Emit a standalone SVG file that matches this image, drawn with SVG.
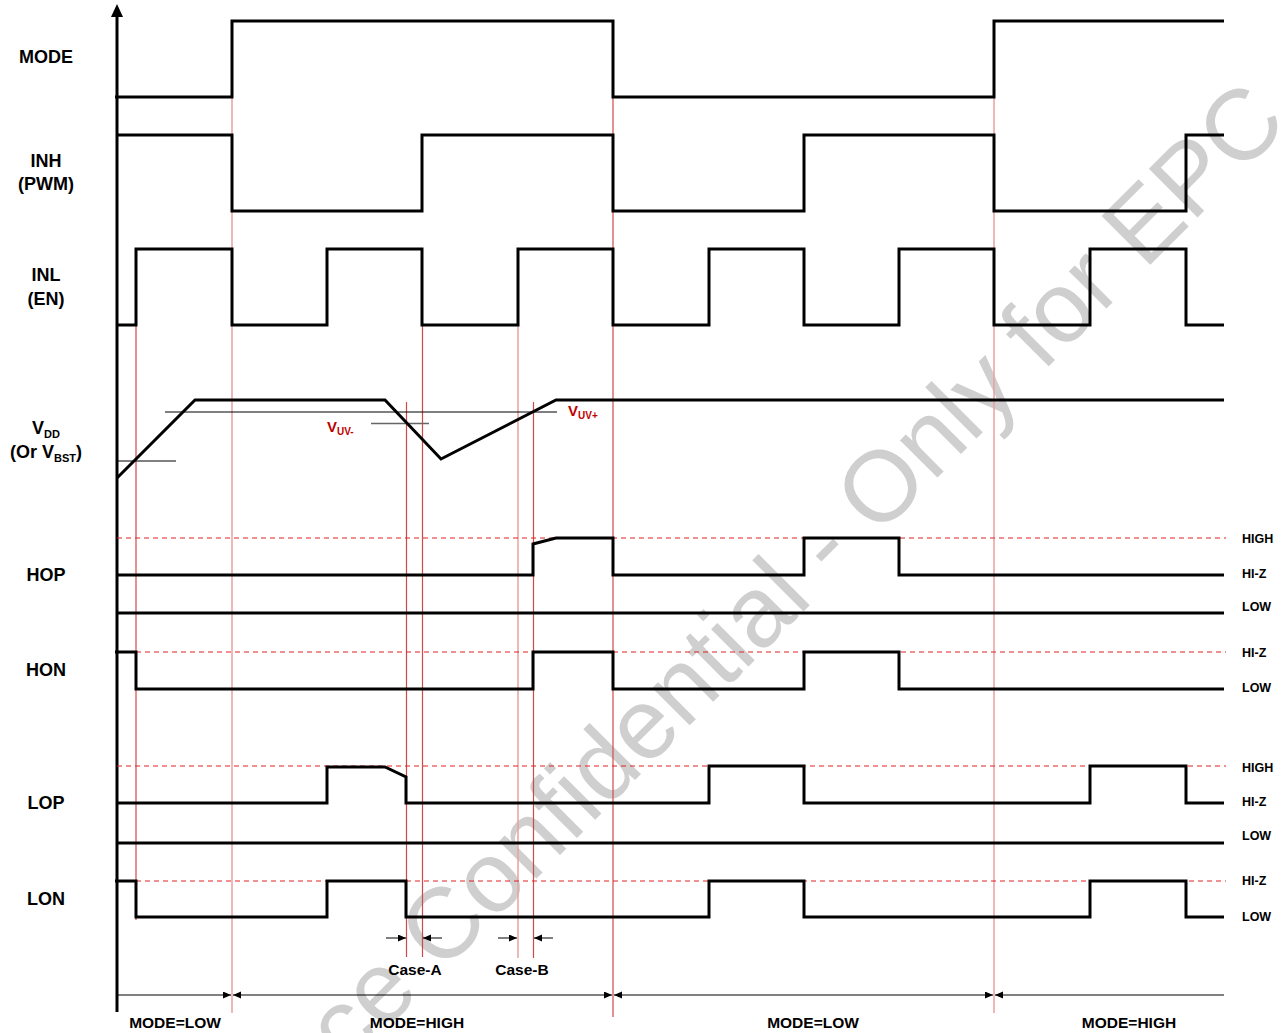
<svg xmlns="http://www.w3.org/2000/svg" width="1288" height="1033" viewBox="0 0 1288 1033">
<style>
.wm{font-family:"Liberation Sans",Arial,sans-serif;font-size:100px;fill:#cfcfcf}
.wave{fill:none;stroke:#000;stroke-width:3;stroke-linejoin:miter}
.lvl{fill:none;stroke:#000;stroke-width:3}
.dash{fill:none;stroke:#e02020;stroke-width:1;stroke-dasharray:5,4}
.red{fill:none;stroke:#d24848;stroke-width:1.2}
.redl{fill:none;stroke:#e8a0a0;stroke-width:1.5}
.thin{fill:none;stroke:#000;stroke-width:1}
.lbl{font-family:"Liberation Sans",Arial,sans-serif;font-weight:bold;font-size:18px;fill:#000;text-anchor:middle}
.rl{font-family:"Liberation Sans",Arial,sans-serif;font-weight:bold;font-size:12.5px;fill:#000}
.bl{font-family:"Liberation Sans",Arial,sans-serif;font-weight:bold;font-size:15.5px;fill:#000;text-anchor:middle}
.uv{font-family:"Liberation Sans",Arial,sans-serif;font-weight:bold;font-size:15px;fill:#c00000}
</style>
<defs>
<marker id="ah" markerWidth="9" markerHeight="8" refX="8" refY="3.5" orient="auto-start-reverse" markerUnits="userSpaceOnUse">
<path d="M0,0 L8,3.5 L0,7 z" fill="#000"/>
</marker>
<marker id="ax" markerWidth="12" markerHeight="14" refX="6" refY="0" orient="0" markerUnits="userSpaceOnUse">
<path d="M0,12 L6,0 L12,12 z" fill="#000"/>
</marker>
</defs>
<rect width="1288" height="1033" fill="#fff"/>
<text class="wm" x="1290" y="125" text-anchor="end" transform="rotate(-45 1290 125)">ce Confidential - Only for EPC</text>

<g id="markers">
<line class="red" x1="136" y1="325" x2="136" y2="920"/>
<line class="redl" x1="232" y1="97" x2="232" y2="1013"/>
<line class="red" x1="406.5" y1="402" x2="406.5" y2="957"/>
<line class="red" x1="422.5" y1="325" x2="422.5" y2="957"/>
<line class="redl" x1="518" y1="325" x2="518" y2="958"/>
<line class="red" x1="533.5" y1="402" x2="533.5" y2="958"/>
<line class="red" x1="613" y1="97" x2="613" y2="1017"/>
<line class="redl" x1="994" y1="97" x2="994" y2="1013"/>
</g>

<g id="axis">
<line x1="117" y1="16" x2="117" y2="1012" stroke="#000" stroke-width="3"/>
<path d="M111,17 L117,4 L123,17 z" fill="#000"/>
</g>

<g id="labels-left">
<text class="lbl" x="46" y="63">MODE</text>
<text class="lbl" x="46" y="167">INH</text>
<text class="lbl" x="46" y="190">(PWM)</text>
<text class="lbl" x="46" y="281">INL</text>
<text class="lbl" x="46" y="305">(EN)</text>
<text class="lbl" x="46" y="434">V<tspan font-size="11" dy="4">DD</tspan></text>
<text class="lbl" x="46" y="458">(Or V<tspan font-size="11" dy="4">BST</tspan><tspan dy="-4">)</tspan></text>
<text class="lbl" x="46" y="581">HOP</text>
<text class="lbl" x="46" y="676">HON</text>
<text class="lbl" x="46" y="809">LOP</text>
<text class="lbl" x="46" y="905">LON</text>
</g>

<g id="labels-right">
<text class="rl" x="1242" y="543">HIGH</text>
<text class="rl" x="1242" y="578">HI-Z</text>
<text class="rl" x="1242" y="611">LOW</text>
<text class="rl" x="1242" y="657">HI-Z</text>
<text class="rl" x="1242" y="692">LOW</text>
<text class="rl" x="1242" y="772">HIGH</text>
<text class="rl" x="1242" y="806">HI-Z</text>
<text class="rl" x="1242" y="840">LOW</text>
<text class="rl" x="1242" y="885">HI-Z</text>
<text class="rl" x="1242" y="921">LOW</text>
</g>

<g id="MODE">
<path class="wave" d="M115,97 H232 V21 H613 V97 H994 V21 H1224"/>
</g>
<g id="INH">
<path class="wave" d="M117,135 H232 V211 H422 V135 H613 V211 H804 V135 H994 V211 H1186 V135 H1224"/>
</g>
<g id="INL">
<path class="wave" d="M117,325 H136 V249 H232 V325 H327 V249 H422 V325 H518 V249 H613 V325 H709 V249 H804 V325 H899 V249 H994 V325 H1090 V249 H1186 V325 H1224"/>
</g>
<g id="VDD">
<line class="thin" x1="165" y1="412" x2="557" y2="412"/>
<line x1="371" y1="423.5" x2="429" y2="423.5" stroke="#666" stroke-width="1.5"/>
<line class="thin" x1="117" y1="461" x2="176" y2="461"/>
<path class="wave" d="M117,478 L195,400 H385 L441,459 L556,400 H1224"/>
<text class="uv" x="327" y="432">V<tspan font-size="10" dy="3">UV-</tspan></text>
<text class="uv" x="568" y="416">V<tspan font-size="10" dy="3">UV+</tspan></text>
</g>
<g id="HOP">
<line class="dash" x1="117" y1="538" x2="1226" y2="538"/>
<line class="lvl" x1="117" y1="613" x2="1224" y2="613"/>
<path class="wave" d="M117,575 H533 V544 L556,538 H613 V575 H804 V538 H899 V575 H1224"/>
</g>
<g id="HON">
<line class="dash" x1="136" y1="652" x2="1226" y2="652"/>
<path class="wave" d="M115,652 H136 V689 H533 V652 H613 V689 H804 V652 H899 V689 H1224"/>
</g>
<g id="LOP">
<line class="dash" x1="117" y1="766" x2="1226" y2="766"/>
<line class="lvl" x1="117" y1="843" x2="1224" y2="843"/>
<path class="wave" d="M117,803 H327 V767 H385 L406,777 V803 H709 V766 H804 V803 H1090 V766 H1186 V803 H1224"/>
</g>
<g id="LON">
<line class="dash" x1="136" y1="881" x2="1226" y2="881"/>
<path class="wave" d="M115,881 H136 V917 H327 V881 H406 V917 H709 V881 H804 V917 H1090 V881 H1186 V917 H1224"/>
</g>

<g id="connectors">
<line class="thin" x1="386" y1="938" x2="406" y2="938" marker-end="url(#ah)"/>
<line class="thin" x1="442" y1="938" x2="423" y2="938" marker-end="url(#ah)"/>
<line class="thin" x1="498" y1="938" x2="517" y2="938" marker-end="url(#ah)"/>
<line class="thin" x1="553" y1="938" x2="534" y2="938" marker-end="url(#ah)"/>
<line class="thin" x1="117" y1="995" x2="231" y2="995" marker-end="url(#ah)"/>
<line class="thin" x1="233" y1="995" x2="612" y2="995" marker-start="url(#ah)" marker-end="url(#ah)"/>
<line class="thin" x1="614" y1="995" x2="993" y2="995" marker-start="url(#ah)" marker-end="url(#ah)"/>
<line class="thin" x1="995" y1="995" x2="1224" y2="995" marker-start="url(#ah)"/>
</g>

<g id="labels-bottom">
<text class="bl" x="415" y="975">Case-A</text>
<text class="bl" x="522" y="975">Case-B</text>
<text class="bl" x="175" y="1028">MODE=LOW</text>
<text class="bl" x="417" y="1028">MODE=HIGH</text>
<text class="bl" x="813" y="1028">MODE=LOW</text>
<text class="bl" x="1129" y="1028">MODE=HIGH</text>
</g>
</svg>
